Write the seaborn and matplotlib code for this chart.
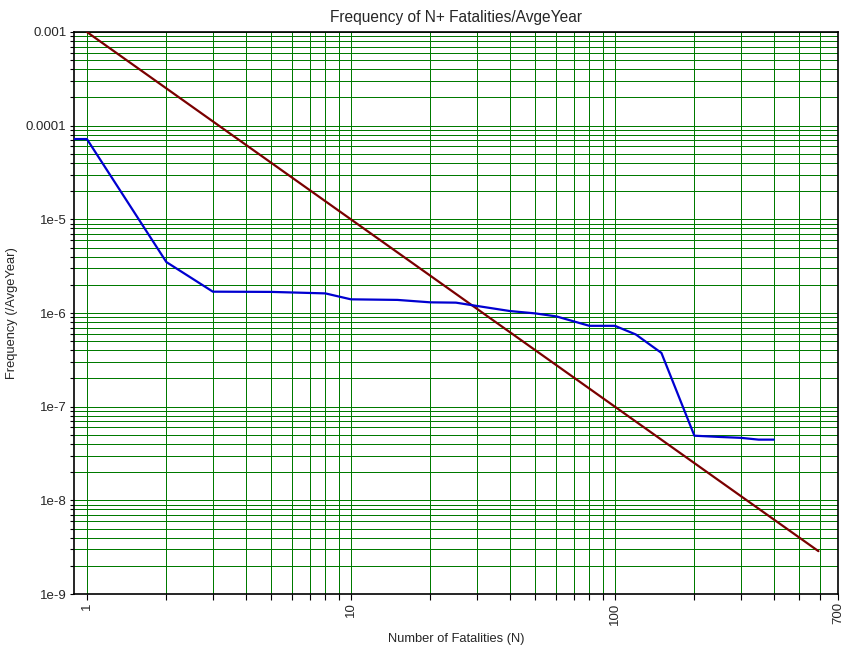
import matplotlib
matplotlib.use("Agg")
import matplotlib.pyplot as plt
import seaborn as sns
import pandas as pd
import numpy as np
from matplotlib.ticker import FixedLocator, NullFormatter, FixedFormatter

# ---- data ----
fn_n = [0.89, 1, 2, 3, 5, 8, 10, 15, 20, 25, 30, 40, 50, 60, 80, 100,
        120, 150, 200, 250, 300, 350, 400]
fn_freq = [7.2e-5, 7.2e-5, 3.5e-6, 1.69e-6, 1.68e-6, 1.62e-6, 1.40e-6, 1.38e-6,
           1.30e-6, 1.29e-6, 1.19e-6, 1.05e-6, 9.9e-7, 9.2e-7, 7.3e-7, 7.3e-7,
           5.9e-7, 3.75e-7, 4.9e-8, 4.75e-8, 4.65e-8, 4.45e-8, 4.45e-8]
crit_n = [1, 590]
crit_freq = [1e-3, 2.87e-9]

x_major = [1, 10, 100, 700]
x_major_labels = ["1", "10", "100", "700"]
x_minor = [2, 3, 4, 5, 6, 7, 8, 9, 20, 30, 40, 50, 60, 70, 80, 90,
           200, 300, 400, 500, 600]
y_major = [1e-9, 1e-8, 1e-7, 1e-6, 1e-5, 1e-4, 1e-3]
y_major_labels = ["1e-9", "1e-8", "1e-7", "1e-6", "1e-5", "0.0001", "0.001"]

title = "Frequency of N+ Fatalities/AvgeYear"
xlabel = "Number of Fatalities (N)"
ylabel = "Frequency (/AvgeYear)"

# ---- plot ----
sns.set_style("white")
plt.rcParams['font.family'] = ['Liberation Sans', 'DejaVu Sans']

fig = plt.figure(figsize=(8.54, 6.49), dpi=100)
ax = fig.add_axes([0.0861, 0.0847, 0.9813 - 0.0861, 0.9507 - 0.0847])

df_fn = pd.DataFrame({"N": fn_n, "F": fn_freq})
df_crit = pd.DataFrame({"N": crit_n, "F": crit_freq})

ax.set_xscale("log")
ax.set_yscale("log")

sns.lineplot(data=df_crit, x="N", y="F", ax=ax, color="#7a0000", lw=1.6,
             sort=False, zorder=3)
sns.lineplot(data=df_fn, x="N", y="F", ax=ax, color="#0000d0", lw=1.6,
             sort=False, zorder=4)

ax.set_xlim(0.89, 700)
ax.set_ylim(1e-9, 1e-3)

ax.xaxis.set_major_locator(FixedLocator(x_major))
ax.xaxis.set_major_formatter(FixedFormatter(x_major_labels))
ax.xaxis.set_minor_locator(FixedLocator(x_minor))
ax.xaxis.set_minor_formatter(NullFormatter())

y_minor = [m * d for d in y_major[:-1] for m in range(2, 10)]
ax.yaxis.set_major_locator(FixedLocator(y_major))
ax.yaxis.set_major_formatter(FixedFormatter(y_major_labels))
ax.yaxis.set_minor_locator(FixedLocator(y_minor))
ax.yaxis.set_minor_formatter(NullFormatter())

ax.grid(True, which="both", color="#007a00", lw=0.72, zorder=1,
        antialiased=False)
ax.set_axisbelow(True)

ax.tick_params(axis="x", which="both", direction="out", length=4, width=0.8,
               bottom=True, top=False, labelsize=9.5, labelrotation=90, pad=2,
               color="black")
ax.tick_params(axis="y", which="both", direction="out", length=3, width=0.8,
               left=True, right=False, labelsize=9.5, pad=2, color="black")

for s in ax.spines.values():
    s.set_color("black")
    s.set_linewidth(1.2)

ax.set_title(title, fontsize=11.2, pad=7)
ax.set_xlabel(xlabel, fontsize=9.3, labelpad=6)
ax.set_ylabel(ylabel, fontsize=9.3, labelpad=6)

fig.savefig("out.png", dpi=100)
